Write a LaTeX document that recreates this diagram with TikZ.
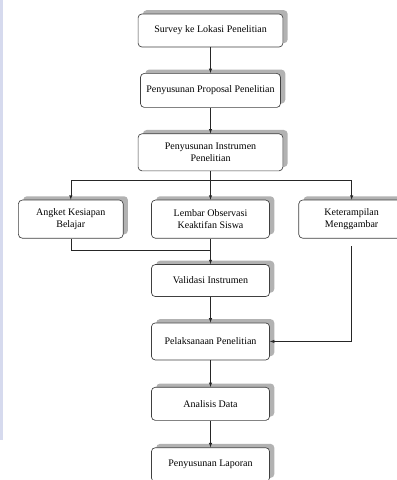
\documentclass[tikz,border=0pt]{standalone}
\usepackage{fontspec}
\setmainfont{Liberation Serif}
\usetikzlibrary{positioning,shadows}
\definecolor{stripblue}{RGB}{214,218,238}

\begin{document}
\begin{tikzpicture}[x=1.05pt, y=-1.05pt,
            every node/.style={rectangle, align=center, font=\fontsize{10.5}{13}\selectfont},
            box/.style={draw=black!75, line width=0.7pt, rounded corners=4pt, fill=white,
                drop shadow={shadow xshift=5pt, shadow yshift=4pt, fill=black!30, opacity=1}},
            node distance=27pt and 29pt,
            link/.style={draw=black!85, line width=0.6pt, -latex}]
    \useasboundingbox (0,0) rectangle (396,480);
    \fill [stripblue] (0,0) rectangle (3,440);
    \node [box, minimum width=152pt, minimum height=34.7pt] (survey) at (210.5,30.5) {Survey ke Lokasi Penelitian};
    \node [box, minimum width=147pt, minimum height=35.7pt, below=of survey] (proposal) {Penyusunan Proposal Penelitian};
    \node [box, minimum width=152pt, minimum height=38.9pt, below=of proposal] (instrumen) {Penyusunan Instrumen\\Penelitian};
    \node [box, minimum width=124pt, minimum height=40pt, below=30pt of instrumen] (lembar) {Lembar Observasi\\Keaktifan Siswa};
    \node [box, minimum width=110pt, minimum height=40pt, left=29pt of lembar] (angket) {Angket Kesiapan\\Belajar};
    \node [box, minimum width=111pt, minimum height=40pt, right=30pt of lembar] (terampil) {Keterampilan\\Menggambar};
    \node [box, minimum width=124pt, minimum height=33.6pt, below=of lembar] (validasi) {Validasi Instrumen};
    \node [box, minimum width=124pt, minimum height=38.9pt, below=of validasi] (pelaksanaan) {Pelaksanaan Penelitian};
    \node [box, minimum width=124pt, minimum height=34.7pt, below=28pt of pelaksanaan] (analisis) {Analisis Data};
    \node [box, minimum width=124pt, minimum height=35.7pt, below=28pt of analisis] (laporan) {Penyusunan Laporan};

    \draw [link] (survey) -- (proposal);
    \draw [link] (proposal) -- (instrumen);
    \draw [draw=black!85, line width=0.6pt] (instrumen.south) -- ++(0,9) coordinate (split);
    \draw [link] (split) -- (lembar.north);
    \draw [link] (split) -| (angket.north);
    \draw [link] (split) -| (terampil.north);
    \draw [draw=black!85, line width=0.6pt] (angket.south) -- ++(0,12) -| (lembar.south);
    \draw [link] (lembar) -- (validasi);
    \draw [link] (validasi) -- (pelaksanaan);
    \draw [link, shorten <=8pt] (terampil.south) |- (pelaksanaan.east);
    \draw [link] (pelaksanaan) -- (analisis);
    \draw [link] (analisis) -- (laporan);
\end{tikzpicture}
\end{document}
